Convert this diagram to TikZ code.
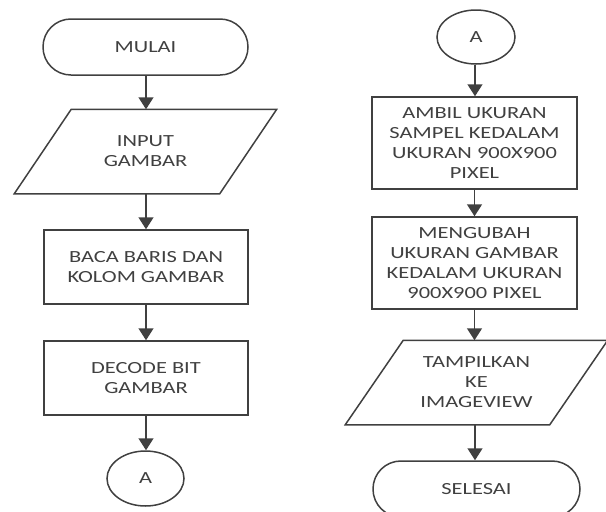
\documentclass[tikz,border=0pt]{standalone}
\usepackage{fontspec}
\setmainfont[FakeStretch=1.32]{Carlito}
\usetikzlibrary{arrows.meta,shapes.geometric}
\definecolor{ink}{HTML}{404040}
\tikzset{
  base/.style={draw=ink, line width=1.5pt, text=ink, align=center, inner sep=0pt,
               font=\fontsize{17}{20}\selectfont},
  term/.style={base, rectangle, rounded corners=27.9pt, minimum width=205pt, minimum height=56pt},
  proc/.style={base, rectangle, minimum width=204pt, minimum height=74pt},
  tallproc/.style={proc, minimum width=205pt, minimum height=92pt},
  io/.style={base, draw=none, rectangle, minimum width=204pt, minimum height=83pt},
  conn/.style={base, ellipse, minimum width=77pt, minimum height=55pt},
  flow/.style={draw=ink, line width=1.5pt, -{Triangle[width=15pt,length=12pt]}},
  slanted/.style={draw=ink, line width=1.5pt, line join=miter},
}
\begin{document}
\begin{tikzpicture}[x=1pt, y=-1pt]
  \useasboundingbox (0,0) rectangle (606,512);
  \clip (0,0) rectangle (606,512);

  % left column
  \node[term] (mulai) at (145.5,47) {MULAI};
  \node[io] (input) at (145.5,151.5) {INPUT\\GAMBAR};
  \node[proc] (baca) at (146,267) {BACA BARIS DAN\\KOLOM GAMBAR};
  \node[proc] (decode) at (146,378) {DECODE BIT\\GAMBAR};
  \node[conn] (a1) at (145.5,478.5) {A};

  % right column
  \node[conn, minimum width=78pt, minimum height=54pt] (a2) at (476,37) {A};
  \node[tallproc] (ambil) at (474.5,143) {AMBIL UKURAN\\SAMPEL KEDALAM\\UKURAN 900X900\\PIXEL};
  \node[tallproc] (ubah) at (474.5,263) {MENGUBAH\\UKURAN GAMBAR\\KEDALAM UKURAN\\900X900 PIXEL};
  \node[io, minimum width=203pt] (tampil) at (476.5,382.5) {TAMPILKAN\\KE\\IMAGEVIEW};
  \node[term, minimum width=207pt] (selesai) at (476.5,489) {SELESAI};

  % input / output parallelograms
  \draw[slanted] ([xshift=28.5pt]input.north west) -- ([xshift=28.5pt]input.north east)
    -- ([xshift=-28.5pt]input.south east) -- ([xshift=-28.5pt]input.south west) -- cycle;
  \draw[slanted] ([xshift=29pt]tampil.north west) -- ([xshift=29pt]tampil.north east)
    -- ([xshift=-29pt]tampil.south east) -- ([xshift=-29pt]tampil.south west) -- cycle;

  % connectors, left column
  \draw[flow] ([xshift=0.5pt]mulai.south) -- ([xshift=0.5pt]mulai.south |- input.north);
  \draw[flow] ([xshift=0.5pt]input.south) -- ([xshift=0.5pt]input.south |- baca.north);
  \draw[flow] (baca.south) -- (baca.south |- decode.north);
  \draw[flow] (decode.south) -- (decode.south |- a1.north);

  % connectors, right column
  \draw[flow] ([xshift=-1pt]a2.south) -- ([xshift=-1pt]a2.south |- ambil.north);
  \draw[flow] (ambil.south) -- (ambil.south |- ubah.north);
  \draw[flow] (ubah.south) -- (ubah.south |- tampil.north);
  \draw[flow] ([xshift=-1.5pt]tampil.south) -- ([xshift=-1.5pt]tampil.south |- selesai.north);
\end{tikzpicture}
\end{document}
